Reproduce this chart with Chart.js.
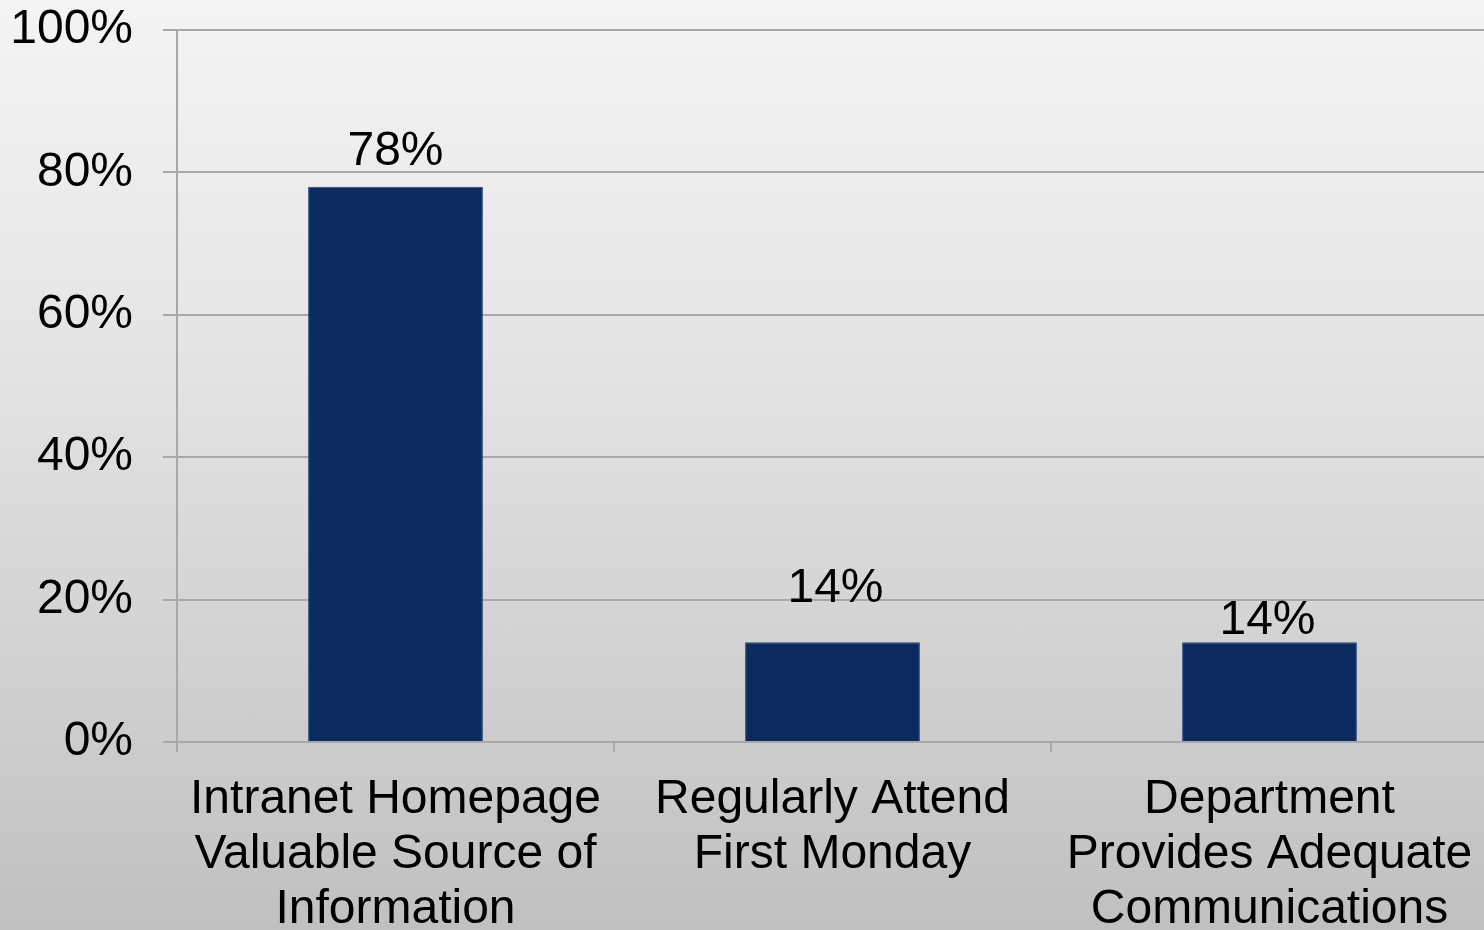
<!DOCTYPE html>
<html>
<head>
<meta charset="utf-8">
<script src="https://cdn.jsdelivr.net/npm/chart.js@4/dist/chart.umd.min.js"></script>
<style>
    html, body {
        margin: 0;
        padding: 0;
        width: 1484px;
        height: 930px;
        overflow: hidden;
        background: linear-gradient(to bottom, #f4f4f4 0%, #e6e6e6 35%, #d2d2d2 70%, #c0c0c0 100%);
    }
    #wrap {
        position: absolute;
        left: 0;
        top: 0;
        width: 1488px;
        height: 960px;
    }
</style>
</head>
<body>
<div id="wrap"><canvas id="graficEnquesta" width="1488" height="960"></canvas></div>
<script>
const categories = [
    ['Intranet Homepage', 'Valuable Source of', 'Information'],
    ['Regularly Attend', 'First Monday'],
    ['Department', 'Provides Adequate', 'Communications']
];
const percentValues = [78, 14, 14];
const yTicks = [0, 20, 40, 60, 80, 100];

const fontFamily = '"Liberation Sans", Arial, sans-serif';

// percentatge escrit damunt de cada barra
const etiquetesValor = {
    id: 'etiquetesValor',
    afterDatasetsDraw(chart, args, opts) {
        const ctx = chart.ctx;
        const meta = chart.getDatasetMeta(0);
        ctx.save();
        ctx.font = opts.size + 'px ' + fontFamily;
        ctx.fillStyle = '#000';
        ctx.textAlign = 'center';
        ctx.textBaseline = 'alphabetic';
        meta.data.forEach((bar, i) => {
            const gap = opts.gaps[i] ?? 20;
            ctx.fillText(percentValues[i] + '%', bar.x + (opts.shiftX[i] || 0), bar.y - gap);
        });
        ctx.restore();
    }
};

const ctx = document.getElementById('graficEnquesta').getContext('2d');

new Chart(ctx, {
    type: 'bar',
    data: {
        labels: categories,
        datasets: [{
            data: percentValues,
            backgroundColor: '#0a2a60',
            borderColor: '#27477c',
            borderWidth: 1,
            categoryPercentage: 1,
            barPercentage: 0.4
        }]
    },
    plugins: [etiquetesValor],
    options: {
        responsive: false,
        animation: false,
        layout: {
            padding: 0
        },
        plugins: {
            legend: { display: false },
            tooltip: { enabled: false },
            etiquetesValor: {
                size: 48,
                gaps: [22, 40, 8],
                shiftX: [0, 3, -2]
            }
        },
        scales: {
            x: {
                offset: true,
                grid: {
                    offset: true,
                    drawOnChartArea: false,
                    drawTicks: true,
                    tickLength: 10,
                    color: '#a8a8a8',
                    lineWidth: 2
                },
                border: { color: '#a8a8a8', width: 2 },
                ticks: {
                    color: '#000',
                    padding: 20,
                    maxRotation: 0,
                    autoSkip: false,
                    font: { family: fontFamily, size: 48, lineHeight: 1.15 }
                },
                afterFit(scale) {
                    scale.height = 960 - 742;
                    scale.paddingLeft = 0;
                    scale.paddingRight = 0;
                }
            },
            y: {
                min: 0,
                max: 100,
                afterBuildTicks(scale) {
                    scale.ticks = yTicks.map(v => ({ value: v }));
                },
                grid: {
                    color: '#a8a8a8',
                    lineWidth: 2,
                    drawTicks: true,
                    tickLength: 14
                },
                border: { color: '#a8a8a8', width: 2 },
                ticks: {
                    color: '#000',
                    padding: 30,
                    font: { family: fontFamily, size: 48 },
                    callback: v => v + '%'
                },
                afterFit(scale) {
                    scale.width = 177;
                    scale.paddingTop = 30;
                    scale.paddingBottom = 0;
                }
            }
        }
    }
});
</script>
</body>
</html>
